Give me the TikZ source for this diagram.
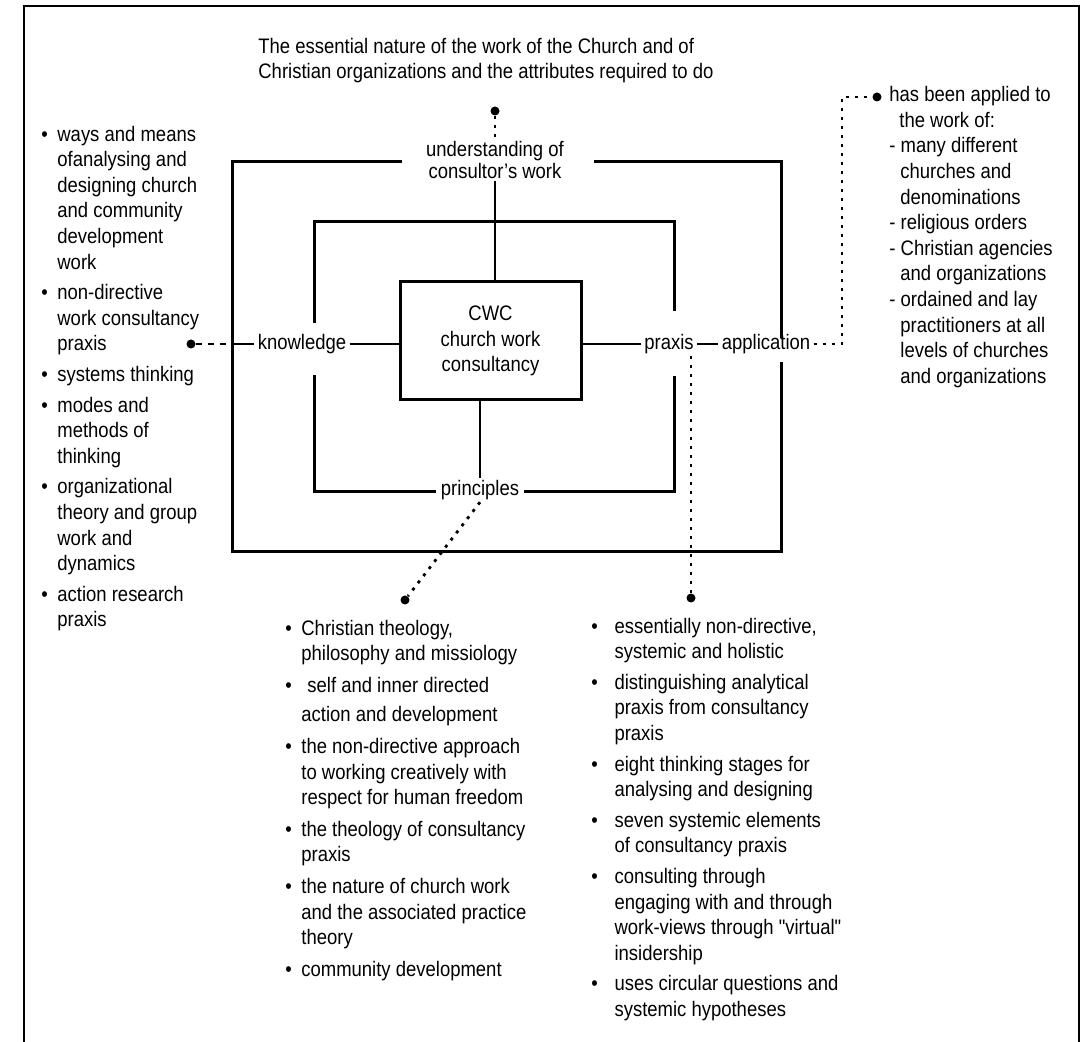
\documentclass[tikz,border=0pt]{standalone}
\usepackage{fontspec}
\setmainfont{Liberation Sans}[FakeStretch=0.88]
\usetikzlibrary{calc}
\newcommand{\cwcfont}{\fontsize{10.5}{12.8}\selectfont}
\newcommand{\bul}[1][8pt]{\makebox[#1][l]{\textbullet}}
\newcommand{\cont}[1][8pt]{\hspace*{#1}}
\tikzset{
  boxline/.style={line width=1.5pt},
  link/.style={line width=1.2pt},
  dotlink/.style={line width=1.4pt,dash pattern=on 1.5pt off 3pt},
  dashlink/.style={line width=1.2pt,dash pattern=on 3pt off 3pt},
  enddot/.style={circle,fill,inner sep=0pt,minimum size=4.5pt},
  lbl/.style={inner xsep=1.5pt,inner ysep=1pt},
  listtext/.style={anchor=north west,align=left,inner sep=0pt}
}

\begin{document}
\begin{tikzpicture}[x=0.5pt,y=-0.5pt,font=\cwcfont]
  \useasboundingbox (0,0) rectangle (1087,1042);
  % page frame, open at the bottom
  \draw[line width=1.2pt] (24,1042) -- (24,6) -- (1079,6) -- (1079,1042);

  \node[listtext] (essence) at (258,37.5) {The essential nature of the work of the Church and of\\
    Christian organizations and the attributes required to do};

  \node[lbl,align=center,font=\fontsize{10.5}{9}\selectfont] (und) at (495,160) {understanding of\\consultor's work};
  \node[draw,boxline,minimum width=90.5pt,minimum height=59pt,align=center] (cwc) at (490.5,341) {CWC\\church work\\consultancy};
  \node[lbl] (know) at (302,344) {knowledge};
  \node[lbl] (prax) at (669,344) {praxis};
  \node[lbl] (app) at (766,344) {application};
  \node[lbl] (prin) at (480,490) {principles};

  % middle box
  \draw[boxline] (436,492) -- (314,492) -- (314,375);
  \draw[boxline] (314,323) -- (314,222) -- (674,222) -- (674,311);
  \draw[boxline] (674,376) -- (674,492) -- (524,492);
  % outer box
  \draw[boxline] (402,162) -- (232,162) -- (232,552) -- (781,552) -- (781,362);
  \draw[boxline] (781,338) -- (781,162) -- (594,162);

  \draw[link] (und.south) -- (und.south |- cwc.north);
  \draw[link] (cwc.south -| prin.north) -- (prin.north);
  \draw[link] (know.east) -- (know.east -| cwc.west);
  \draw[link] (prax.west -| cwc.east) -- (prax.west);
  \draw[link] (prax.east) -- (app.west);
  \coordinate (kjoin) at (232,344);
  \draw[link] (kjoin) -- (know.west);

  % dotted leads to the lists
  \node[enddot] (udot) at (495,111) {};
  \draw[dotlink] (udot) -- (und.north);
  \node[enddot] (kdot) at (191,344) {};
  \draw[dashlink] (kdot) -- (kjoin);
  \node[enddot] (rdot) at (405,600) {};
  \draw[dotlink] (prin.south) -- (rdot);
  \node[enddot] (pdot) at (691,598) {};
  \draw[dotlink] (pdot |- prax.south) -- (pdot);
  \node[enddot] (adot) at (877,97) {};
  \coordinate (acorner) at (842,344);
  \draw[dotlink] (app.east) -- (acorner) -- (acorner |- adot) -- (adot);

  \node[listtext] (knowlist) at (41,125.5) {\bul ways and means\\
    \cont ofanalysing and\\ \cont designing church\\ \cont and community\\
    \cont development\\ \cont work\\[2.5pt]
    \bul non-directive\\ \cont work consultancy\\ \cont praxis\\[2.5pt]
    \bul systems thinking\\[2.5pt]
    \bul modes and\\ \cont methods of\\ \cont thinking\\[2.5pt]
    \bul organizational\\ \cont theory and group\\ \cont work and\\ \cont dynamics\\[2.5pt]
    \bul action research\\ \cont praxis};

  \node[listtext] (princlist) at (285,619.5) {\bul Christian theology,\\
    \cont philosophy and missiology\\[3pt]
    \bul\hspace{3pt}self and inner directed\\[2pt] \cont action and development\\[3pt]
    \bul the non-directive approach\\ \cont to working creatively with\\ \cont respect for human freedom\\[3pt]
    \bul the theology of consultancy\\ \cont praxis\\[3pt]
    \bul the nature of church work\\ \cont and the associated practice\\ \cont theory\\[3pt]
    \bul community development};

  \node[listtext] (praxlist) at (591,617.5) {\bul[9pt] essentially non-directive,\\
    \cont[9pt] systemic and holistic\\[2.5pt]
    \bul[9pt] distinguishing analytical\\ \cont[9pt] praxis from consultancy\\ \cont[9pt] praxis\\[2.5pt]
    \bul[9pt] eight thinking stages for\\ \cont[9pt] analysing and designing\\[2.5pt]
    \bul[9pt] seven systemic elements\\ \cont[9pt] of consultancy praxis\\[2.5pt]
    \bul[9pt] consulting through\\ \cont[9pt] engaging with and through\\
    \cont[9pt] work-views through {\addfontfeature{Ligatures=TeXOff}"virtual"}\\ \cont[9pt] insidership\\[2.5pt]
    \bul[9pt] uses circular questions and\\ \cont[9pt] systemic hypotheses};

  \node[listtext] (applist) at (889,86) {has been applied to\\
    \cont[5pt]the work of:\\ - many different\\ \cont[5.5pt]churches and\\ \cont[5.5pt]denominations\\
    - religious orders\\ - Christian agencies\\ \cont[5.5pt]and organizations\\
    - ordained and lay\\ \cont[5.5pt]practitioners at all\\ \cont[5.5pt]levels of churches\\
    \cont[5.5pt]and organizations};
\end{tikzpicture}
\end{document}
